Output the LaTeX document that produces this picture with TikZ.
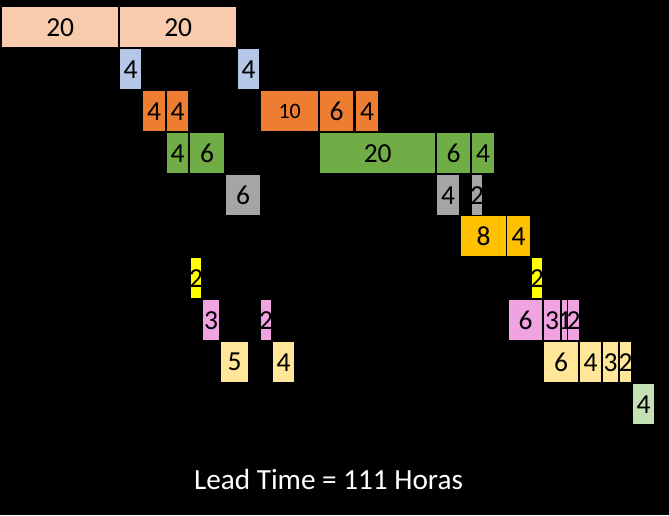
\documentclass[tikz,border=0pt]{standalone}
\usepackage{fontspec}
\setmainfont{Carlito}
\usepackage{xcolor}
\definecolor{salmao}{HTML}{F8CBAD}
\definecolor{azul}{HTML}{B4C7E7}
\definecolor{laranja}{HTML}{ED7D31}
\definecolor{verde}{HTML}{70AD47}
\definecolor{cinza}{HTML}{A5A5A5}
\definecolor{ouro}{HTML}{FFC000}
\definecolor{amarelo}{HTML}{FFFF00}
\definecolor{rosa}{HTML}{EFA3E0}
\definecolor{creme}{HTML}{FFE699}
\definecolor{verdeclaro}{HTML}{C5E0B4}
\newcommand{\hrs}[1]{\makebox[0pt]{#1}}

\begin{document}
\begin{tikzpicture}[x=1pt,y=-1pt,
  caixa/.style={anchor=north west,inner sep=0pt,minimum height=40pt,text=black,font=\fontsize{27.5}{27.5}\selectfont}]
  \fill[black] (0,0) rectangle (669,515);
  % linha 1
  \node[caixa,fill=salmao,minimum width=116pt] (s1) at (2,7) {\hrs{20}};
  \node[caixa,fill=salmao,minimum width=116pt] (s2) at (120,7) {\hrs{20}};
  % linha 2
  \node[caixa,fill=azul,minimum width=21pt] (a1) at (120,49) {\hrs{4}};
  \node[caixa,fill=azul,minimum width=21pt] (a2) at (238,49) {\hrs{4}};
  % linha 3
  \node[caixa,fill=laranja,minimum width=22pt] (l1) at (143,91) {\hrs{4}};
  \node[caixa,fill=laranja,minimum width=21pt] (l2) at (167,91) {\hrs{4}};
  \node[caixa,fill=laranja,minimum width=57pt,font=\fontsize{22}{22}\selectfont] (l3) at (261,91) {\hrs{10}};
  \node[caixa,fill=laranja,minimum width=33pt] (l4) at (320,91) {\hrs{6}};
  \node[caixa,fill=laranja,minimum width=22pt] (l5) at (356,91) {\hrs{4}};
  % linha 4
  \node[caixa,fill=verde,minimum width=21pt] (v1) at (167,133) {\hrs{4}};
  \node[caixa,fill=verde,minimum width=34pt] (v2) at (190,133) {\hrs{6}};
  \node[caixa,fill=verde,minimum width=115pt] (v3) at (320,133) {\hrs{20}};
  \node[caixa,fill=verde,minimum width=33pt] (v4) at (437,133) {\hrs{6}};
  \node[caixa,fill=verde,minimum width=22pt] (v5) at (472,133) {\hrs{4}};
  % linha 5
  \node[caixa,fill=cinza,minimum width=34pt] (c1) at (226,175) {\hrs{6}};
  \node[caixa,fill=cinza,minimum width=22pt] (c2) at (437,175) {\hrs{4}};
  \node[caixa,fill=cinza,minimum width=10pt] (c3) at (472,175) {\hrs{2}};
  % linha 6
  \node[caixa,fill=ouro,minimum width=45pt] (o1) at (461,216) {\hrs{8}};
  \node[caixa,fill=ouro,minimum width=23pt] (o2) at (507,216) {\hrs{4}};
  % linha 7
  \node[caixa,fill=amarelo,minimum width=10pt] (y1) at (191,258) {\hrs{2}};
  \node[caixa,fill=amarelo,minimum width=10pt] (y2) at (532,258) {\hrs{2}};
  % linha 8
  \node[caixa,fill=rosa,minimum width=16pt] (r1) at (203,300) {\hrs{3}};
  \node[caixa,fill=rosa,minimum width=10pt] (r2) at (261,300) {\hrs{2}};
  \node[caixa,fill=rosa,minimum width=33pt] (r3) at (509,300) {\hrs{6}};
  \node[caixa,fill=rosa,minimum width=16pt] (r4) at (544,300) {\hrs{3}};
  \node[caixa,fill=rosa,minimum width=5pt] (r5) at (562,300) {\hrs{1}};
  \node[caixa,fill=rosa,minimum width=11pt] (r6) at (568,300) {\hrs{2}};
  % linha 9
  \node[caixa,fill=creme,minimum width=27pt] (k1) at (221,342) {\hrs{5}};
  \node[caixa,fill=creme,minimum width=21pt] (k2) at (273,342) {\hrs{4}};
  \node[caixa,fill=creme,minimum width=34pt] (k3) at (544,342) {\hrs{6}};
  \node[caixa,fill=creme,minimum width=21pt] (k4) at (580,342) {\hrs{4}};
  \node[caixa,fill=creme,minimum width=15pt] (k5) at (603,342) {\hrs{3}};
  \node[caixa,fill=creme,minimum width=11pt] (k6) at (620,342) {\hrs{2}};
  % linha 10
  \node[caixa,fill=verdeclaro,minimum width=21pt] (g1) at (633,384) {\hrs{4}};
  \node[text=white,anchor=base,font=\fontsize{29.2}{30}\selectfont] (lt) at (328.5,489) {Lead Time = 111 Horas};
\end{tikzpicture}
\end{document}
